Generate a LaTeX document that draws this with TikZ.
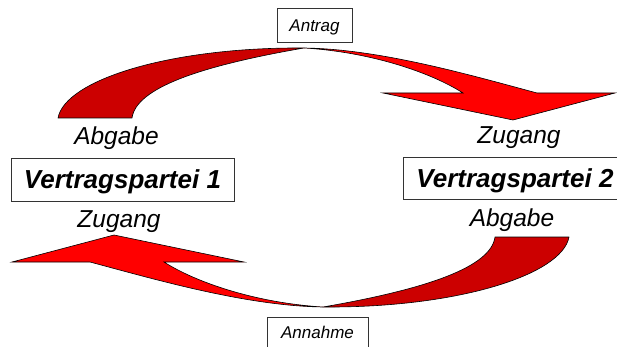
\documentclass[tikz,border=0pt]{standalone}
\usepackage{fontspec}
\setmainfont{Liberation Sans}
\definecolor{darkred}{HTML}{CC0000}
\definecolor{brightred}{HTML}{FF0000}
\begin{document}
\begin{tikzpicture}[x=1pt,y=-1pt,
  arrowdark/.style={fill=darkred, draw=black, line width=0.6pt, line join=round},
  arrowbright/.style={fill=brightred, draw=black, line width=0.6pt, line join=miter},
  lbl/.style={font=\fontsize{24.5}{27}\selectfont\itshape, inner sep=0pt, anchor=base},
  party/.style={font=\fontsize{26}{28}\selectfont\bfseries\itshape, inner sep=0pt, text height=18.6pt, text depth=0pt},
  smallbox/.style={inner sep=0pt, font=\fontsize{17}{19}\selectfont\itshape, text height=12.2pt, text depth=0pt},
  boxline/.style={draw=black!80, line width=0.8pt},
  curvarrow/.pic={
    \path[arrowdark] (58,118) .. controls (65,80) and (170,47) .. (304,48)
      .. controls (200,66) and (136,88) .. (132,118) -- cycle;
    \path[arrowbright] (304,48) .. controls (380,49) and (470,75) .. (537,93)
      -- (615,93) -- (513,120) -- (383,93) -- (463,93)
      .. controls (430,72) and (370,52) .. (304,48) -- cycle;
  }]
\clip (0,0) rectangle (617,347);
\fill[white] (0,0) rectangle (617,347);

% curved arrows
\pic at (0,0) {curvarrow};
\pic[rotate=180] at (627,355) {curvarrow};

% party boxes and labels
\node[lbl] (abg1) at (116.5,145) {Abgabe};
\node[party, boxline, minimum width=223pt, minimum height=43pt] (vp1) at (122.5,179.5) {Vertragspartei 1};
\node[lbl] (zug1) at (119,227) {Zugang};

\node[lbl] (zug2) at (519,144) {Zugang};
\node[party] (vp2) at (515,178) {Vertragspartei 2};
\draw[boxline] (403,157) rectangle (640,199);
\node[lbl] (abg2) at (512,226) {Abgabe};

% small boxes
\node[smallbox, boxline, minimum width=75pt, minimum height=34pt] (antrag) at (314.5,25) {Antrag};
\node[smallbox] (annahme) at (317.5,332) {Annahme};
\draw[boxline] (267,317) rectangle (368,365);
\end{tikzpicture}
\end{document}
